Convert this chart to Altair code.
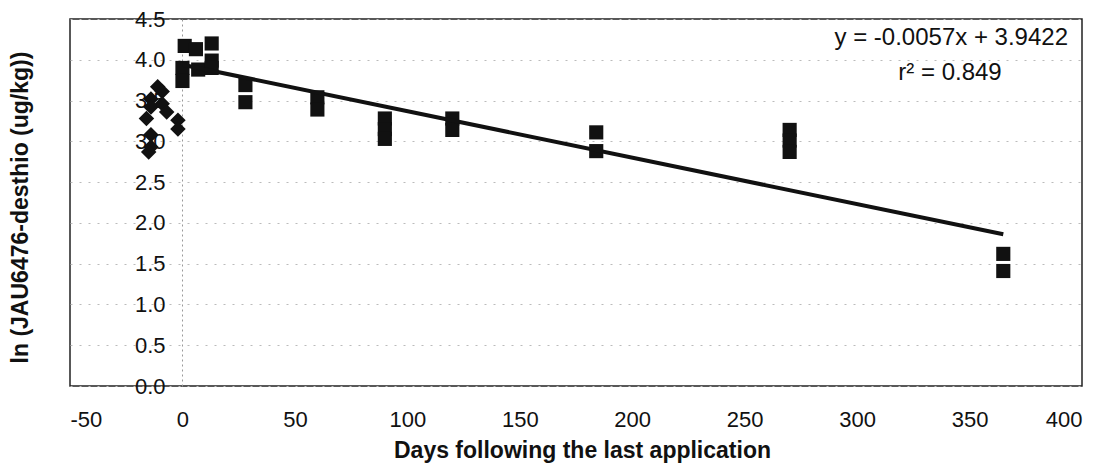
import altair as alt
import pandas as pd

# Pre-application samples (diamonds)
pre_days = [-11, -9, -14, -9, -14, -7, -16, -2, -2, -14, -14, -15]
pre_ln = [3.67, 3.61, 3.52, 3.46, 3.42, 3.36, 3.28, 3.26, 3.15, 3.08, 2.93, 2.87]

# Post-application samples (squares)
post_days = [0, 0, 1, 6, 7, 13, 13, 13, 28, 28, 60, 60, 90, 90, 90,
             120, 120, 184, 184, 270, 270, 270, 365, 365]
post_ln = [3.90, 3.74, 4.17, 4.13, 3.88, 4.20, 3.99, 3.90, 3.69, 3.48, 3.54, 3.39,
           3.28, 3.15, 3.03, 3.28, 3.14, 3.11, 2.88, 3.14, 3.01, 2.87, 1.62, 1.41]

# Linear trend line end points
trend_days = [0, 365]
trend_ln = [3.94, 1.86]

x_ticks = [-50, 0, 50, 100, 150, 200, 250, 300, 350, 400]
y_ticks = [0.0, 0.5, 1.0, 1.5, 2.0, 2.5, 3.0, 3.5, 4.0, 4.5]

eq_text = "y = -0.0057x + 3.9422"
r2_text = "r² = 0.849"

W, H = 1012, 367
FONT = "Liberation Sans"

pre_df = pd.DataFrame({"days": pre_days, "ln": pre_ln})
post_df = pd.DataFrame({"days": post_days, "ln": post_ln})
trend_df = pd.DataFrame({"days": trend_days, "ln": trend_ln})

xscale = alt.Scale(domain=[-50, 400], nice=False, zero=False)
yscale = alt.Scale(domain=[0, 4.5], nice=False, zero=True)

x_enc = alt.X("days:Q", scale=xscale,
              axis=alt.Axis(values=x_ticks, title="Days following the last application",
                            labelExpr="toString(datum.value)",
                            domain=False, ticks=False, grid=False,
                            labelFontSize=22, labelFont=FONT, labelColor="#111",
                            labelPadding=23, titleFontSize=23, titleFont=FONT,
                            titleFontWeight="bold", titleColor="#111", titlePadding=9,
                            titleX=512))
y_enc = alt.Y("ln:Q", scale=yscale,
              axis=alt.Axis(values=y_ticks, labelExpr="format(datum.value, '.1f')",
                            title="ln (JAU6476-desthio (ug/kg))",
                            offset=-112, domain=True, domainColor="#999",
                            domainDash=[2, 3], domainWidth=1, ticks=False,
                            grid=True, gridColor="#bbb", gridDash=[2, 7], gridWidth=1,
                            labelFontSize=22, labelFont=FONT, labelColor="#111",
                            labelPadding=17, titleFontSize=23, titleFont=FONT,
                            titleFontWeight="bold", titleColor="#111",
                            titleX=-150, titleY=188))

base_pts = alt.Chart(post_df).mark_point(shape="square", filled=True, size=200,
                                         color="#111", opacity=1).encode(x=x_enc, y=y_enc)
pre_pts = alt.Chart(pre_df).mark_point(shape="diamond", filled=True, size=240,
                                       color="#111", opacity=1).encode(
    x=alt.X("days:Q", scale=xscale), y=alt.Y("ln:Q", scale=yscale))
trend = alt.Chart(trend_df).mark_line(color="#111", strokeWidth=4).encode(
    x=alt.X("days:Q", scale=xscale), y=alt.Y("ln:Q", scale=yscale))

eq = alt.Chart(pd.DataFrame({"t": [eq_text]})).mark_text(
    align="right", baseline="middle", fontSize=24, font=FONT, color="#111").encode(
    text="t:N", x=alt.value(998), y=alt.value(19))
r2 = alt.Chart(pd.DataFrame({"t": [r2_text]})).mark_text(
    align="center", baseline="middle", fontSize=24, font=FONT, color="#111").encode(
    text="t:N", x=alt.value(880), y=alt.value(54))

chart = alt.layer(base_pts, trend, pre_pts, eq, r2).properties(
    width=W, height=H,
    autosize=alt.AutoSizeParams(type="none"),
    padding={"left": 62, "top": 11, "right": 20, "bottom": 84},
    background="white",
).configure_view(stroke="#222", strokeWidth=1.5)

chart.save("out.html", embed_options={"renderer": "svg", "actions": False})
